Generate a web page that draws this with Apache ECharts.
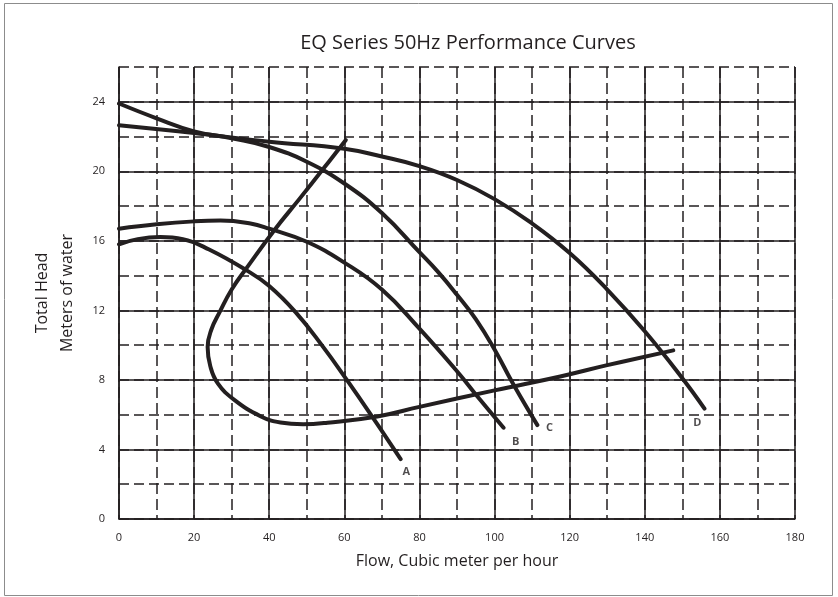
<!DOCTYPE html>
<html>
<head>
<meta charset="utf-8">
<script src="https://cdn.jsdelivr.net/npm/echarts@6/dist/echarts.min.js"></script>
<style>html,body{margin:0;padding:0;background:#fff}#c{width:838px;height:597px}</style>
</head>
<body>
<div id="c"></div>
<script>
// Curve data: [flow m3/h, head m]
const curveA = [[0,15.8],[5,16.1],[11,16.22],[17,16.1],[24,15.5],[34,14.3],[40,13.4],[47,11.9],[54,10],[61,7.9],[68,5.7],[75,3.45]];
const curveB = [[0,16.7],[10,16.95],[20,17.12],[27,17.17],[35,17.0],[40,16.7],[50,15.95],[60,14.75],[70,13.2],[80,10.95],[90,8.5],[96,6.9],[102.4,5.25]];
const curveC = [[0,23.9],[10,23.05],[20,22.3],[30,21.9],[40,21.4],[50,20.55],[60,19.3],[70,17.6],[80,15.35],[85,14.2],[90,12.9],[95,11.5],[100,9.75],[105,7.75],[111.4,5.4]];
const curveD = [[0,22.65],[20,22.2],[40,21.7],[60,21.3],[70,20.85],[80,20.3],[90,19.5],[100,18.4],[110,17.0],[120,15.3],[130,13.2],[140,10.8],[150,8.1],[155.9,6.35]];
const curveE = [[60.4,21.8],[54.6,20.2],[48,18.4],[41.3,16.6],[34.2,14.5],[30,13.2],[26.8,11.9],[24.6,10.9],[23.6,9.9],[24.3,8.8],[26.3,7.8],[30.7,6.85],[37.8,5.9],[43,5.55],[49,5.45],[55.5,5.54],[68.8,5.9],[80,6.45],[100,7.4],[117.5,8.2],[130,8.85],[147.6,9.7]];
const curveLabels = [[76.5,2.7,'A'],[105.6,4.45,'B'],[114.6,5.25,'C'],[154,5.55,'D']];
const xTicks = {min:0, max:180, major:20, minor:10};
const yTicks = {min:0, max:26, major:4, minor:2};

const ink = '#231f20';
const font = 'Open Sans';
const chart = echarts.init(document.getElementById('c'), null, {renderer:'canvas'});
const curveSeries = (d) => ({type:'line', data:d, smooth:0.45, showSymbol:false, symbol:'none',
  lineStyle:{color:ink, width:4, cap:'round', join:'round'}, xAxisIndex:0, yAxisIndex:0, z:5, silent:true});
chart.setOption({
  animation:false,
  backgroundColor:'#fff',
  title:{text:'EQ Series 50Hz Performance Curves', left:463, textAlign:'center', top:28,
    textStyle:{fontFamily:font, fontSize:20, fontWeight:'normal', color:ink}},
  grid:{left:119, right:43, top:67, bottom:78, containLabel:false},
  xAxis:[
    {type:'value', min:xTicks.min, max:xTicks.max, interval:xTicks.major, position:'bottom',
     name:'Flow, Cubic meter per hour', nameLocation:'middle', nameGap:34,
     nameTextStyle:{fontFamily:font, fontSize:16, color:ink},
     axisLine:{show:true, lineStyle:{color:ink, width:1.5}}, axisTick:{show:false},
     axisLabel:{fontFamily:font, fontSize:11, color:ink, margin:13},
     splitLine:{show:true, lineStyle:{color:ink, width:1.5, type:'solid'}}},
    {type:'value', min:xTicks.min, max:xTicks.max, interval:xTicks.minor, position:'bottom',
     axisLine:{show:false}, axisTick:{show:false}, axisLabel:{show:false},
     splitLine:{show:true, lineStyle:{color:ink, width:1.5, type:[11,5]}}}
  ],
  yAxis:[
    {type:'value', min:yTicks.min, max:yTicks.max, interval:yTicks.major, position:'left',
     name:'Meters of water', nameLocation:'middle', nameGap:44, nameRotate:90,
     nameTextStyle:{fontFamily:font, fontSize:16, color:ink},
     axisLine:{show:true, lineStyle:{color:ink, width:1.5}}, axisTick:{show:false},
     axisLabel:{fontFamily:font, fontSize:11, color:ink, margin:14, showMaxLabel:false},
     splitLine:{show:true, showMaxLine:false, lineStyle:{color:ink, width:1.5, type:'solid'}}},
    {type:'value', min:yTicks.min, max:yTicks.max, interval:yTicks.minor, position:'left',
     name:'Total Head', nameLocation:'middle', nameGap:69, nameRotate:90,
     nameTextStyle:{fontFamily:font, fontSize:16, color:ink},
     axisLine:{show:false}, axisTick:{show:false}, axisLabel:{show:false},
     splitLine:{show:true, lineStyle:{color:ink, width:1.5, type:[10,5]}}}
  ],
  graphic:[{type:'rect', shape:{x:4.5, y:3.5, width:828, height:592}, style:{fill:null, stroke:'#8c8c8c', lineWidth:1}, silent:true}],
  series:[
    curveSeries(curveA), curveSeries(curveB), curveSeries(curveC), curveSeries(curveD), curveSeries(curveE),
    {type:'scatter', data:curveLabels, symbolSize:0, z:6, silent:true,
     label:{show:true, position:'inside', formatter:p=>p.value[2], fontFamily:font, fontSize:11, fontWeight:'bold', color:ink}}
  ]
});
</script>
</body>
</html>
